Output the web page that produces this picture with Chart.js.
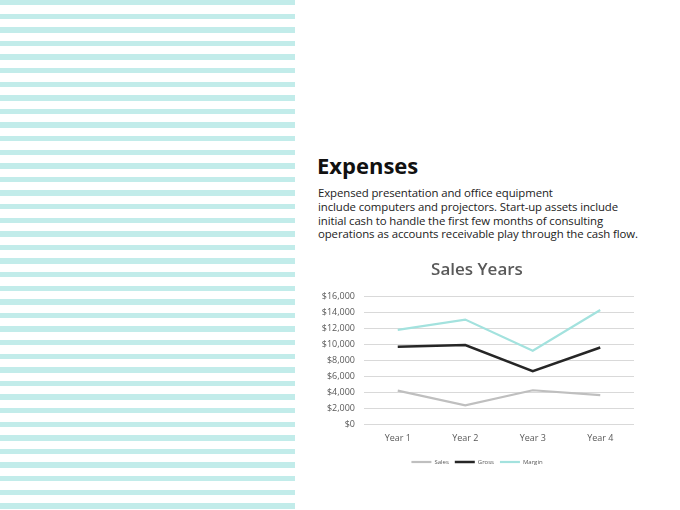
<!DOCTYPE html>
<html>
<head>
<meta charset="utf-8">
<script src="https://cdn.jsdelivr.net/npm/chart.js@4"></script>
<style>
  body { margin: 0; width: 680px; height: 510px; background: #fff; position: relative; overflow: hidden; font-family: "Open Sans", sans-serif; }
  .stripes {
    position: absolute; left: 0; top: 0; width: 295px; height: 510px;
    background: repeating-linear-gradient(to bottom, #c2ecea 0px, #c2ecea 5.4px, #fff 5.4px, #fff 13.6px);
  }
  h1 { position: absolute; left: 317px; top: 150px; margin: 0; font-size: 22px; font-weight: 700; color: #111; }
  p { position: absolute; left: 318px; top: 186px; margin: 0; width: 340px; font-size: 11.4px; line-height: 13.8px; color: #222; letter-spacing: -0.1px; }
  .wrap { position: absolute; left: 310px; top: 260px; width: 330px; height: 215px; }
</style>
</head>
<body>
<div class="stripes"></div>
<h1>Expenses</h1>
<p>Expensed presentation and office equipment<br>include computers and projectors. Start-up assets include<br>initial cash to handle the first few months of consulting<br>operations as accounts receivable play through the cash flow.</p>
<div class="wrap"><canvas id="myChart"></canvas></div>
<script>
const years = ["Year 1", "Year 2", "Year 3", "Year 4"];
const sales = [4200, 2350, 4250, 3650];
const gross = [9700, 9900, 6650, 9600];
const margin = [11800, 13100, 9200, 14300];

const data = {
    labels: years,
    datasets: [
        { label: "Sales", data: sales, borderColor: "#bfbfbf", backgroundColor: "#bfbfbf", borderWidth: 2.2 },
        { label: "Gross", data: gross, borderColor: "#262626", backgroundColor: "#262626", borderWidth: 2.5 },
        { label: "Margin", data: margin, borderColor: "#a3e2de", backgroundColor: "#a3e2de", borderWidth: 2.2 },
    ],
};

const config = {
    type: "line",
    data: data,
    options: {
        responsive: true,
        maintainAspectRatio: false,
        animation: false,
        layout: { padding: { left: 10, right: 6, top: 0, bottom: 0 } },
        elements: { point: { radius: 0 }, line: { tension: 0 } },
        scales: {
            x: {
                offset: true,
                grid: { display: false, drawTicks: false },
                border: { display: false },
                ticks: { color: "#595959", font: { family: "Open Sans", size: 9 }, padding: 9 },
            },
            y: {
                min: 0,
                max: 16000,
                grid: { color: "#d9d9d9", drawTicks: false },
                border: { display: false },
                // narrower axis box so title/legend centre sits where the original has it
                afterFit: function (axis) { axis.width = 44; },
                ticks: {
                    stepSize: 2000,
                    color: "#595959",
                    font: { family: "Open Sans", size: 9 },
                    padding: 9,
                    callback: function (v) { return "$" + v.toLocaleString("en-US"); },
                },
            },
        },
        plugins: {
            title: {
                display: true,
                text: "Sales Years",
                color: "#595959",
                font: { family: "Open Sans", size: 17, weight: "600" },
                padding: { top: 0, bottom: 16 },
            },
            legend: {
                position: "bottom",
                labels: {
                    usePointStyle: true,
                    pointStyle: "line",
                    pointStyleWidth: 20,
                    boxHeight: 6,
                    color: "#595959",
                    font: { family: "Open Sans", size: 6 },
                    padding: 6,
                },
            },
            tooltip: { enabled: false },
        },
    },
};

const ctx = document.getElementById("myChart").getContext("2d");
const myChart = new Chart(ctx, config);
</script>
</body>
</html>
